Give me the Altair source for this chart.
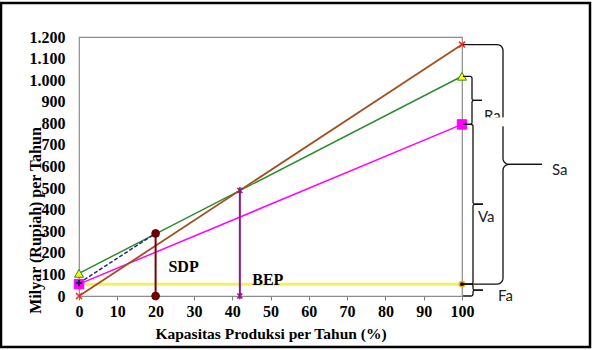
import altair as alt
import pandas as pd
import numpy as np

# ---------------- data ----------------
capacity = [0, 100]
sales = [0, 1165]            # Sa
total_cost = [105, 1018]
variable_cost = [55, 795]
fixed_cost = [55, 55]        # Fa
sdp_dash_x = [0, 20]
sdp_dash_y = [60, 290]
sdp_x, sdp_y = 20, 290
bep_x, bep_y = 42, 489
x_ticks = list(range(0, 101, 10))
y_ticks = list(range(0, 1201, 100))

W, H = 383, 259
XMAX, YMAX = 100, 1200

serif = "Liberation Serif, Times New Roman, serif"
sans = "Lato"

xs = alt.Scale(domain=[0, XMAX], nice=False, zero=False)
ys = alt.Scale(domain=[0, YMAX], nice=False, zero=False)

x_axis = alt.Axis(values=x_ticks, title="Kapasitas Produksi per Tahun (%)",
                  ticks=True, tickSize=4, tickColor="#808080", labelPadding=3,
                  labelFlush=False,
                  labelFont=serif, labelFontSize=16, labelFontWeight="bold",
                  titleFont=serif, titleFontWeight="bold",
                  titleFontSize=15.5, titleY=42, titleBaseline="alphabetic")
y_axis = alt.Axis(values=y_ticks, title="Milyar (Rupiah) per Tahun",
                  ticks=False, labelPadding=14, labelFlush=False,
                  labelFont=serif, labelFontSize=16, labelFontWeight="bold",
                  titleFont=serif, titleFontWeight="bold",
                  labelExpr="replace(format(datum.value, ','), ',', '.')",
                  titleFontSize=16, titleAngle=270, titleAlign="center",
                  titleBaseline="middle", titleX=-44, titleY=183)


def X(field="x"):
    return alt.X(f"{field}:Q", scale=xs, axis=x_axis)


def Y(field="y"):
    return alt.Y(f"{field}:Q", scale=ys, axis=y_axis)


def line_layer(xv, yv, color, width=1.5, dash=None):
    df = pd.DataFrame({"x": xv, "y": yv})
    kw = dict(color=color, strokeWidth=width)
    if dash:
        kw["strokeDash"] = dash
    return alt.Chart(df).mark_line(**kw).encode(x=X(), y=Y())


def point_layer(xv, yv, shape, size, fill=None, stroke=None, sw=1.5, filled=True):
    df = pd.DataFrame({"x": xv, "y": yv})
    kw = dict(shape=shape, size=size, opacity=1, strokeWidth=sw, filled=filled)
    if fill:
        kw["fill"] = fill
    if stroke:
        kw["stroke"] = stroke
    if not filled and stroke:
        kw["color"] = stroke
    return alt.Chart(df).mark_point(**kw).encode(x=X(), y=Y())


# ---------------- lines ----------------
yellow_line = line_layer(capacity, fixed_cost, "#f7f05a", width=3)
magenta_line = line_layer(capacity, variable_cost, "#ff00ff", width=1.5)
green_line = line_layer(capacity, total_cost, "#2e8b2e", width=1.5)
brown_line = line_layer(capacity, sales, "#a0501e", width=1.8)
dash_line = line_layer(sdp_dash_x, sdp_dash_y, "#1f2a80", width=1.5, dash=[4, 2])
sdp_line = line_layer([sdp_x, sdp_x], [0, sdp_y], "#7a0000", width=2)
bep_line = line_layer([bep_x, bep_x], [0, bep_y], "#8a1a8a", width=2)

# ---------------- markers ----------------
XSHAPE = "M-1,-1L1,1M-1,1L1,-1"
PLUS = "M-1,0L1,0M0,-1L0,1"
STAR = "M-0.75,-0.75L0.75,0.75M-0.75,0.75L0.75,-0.75M0,-1L0,1"

fixed_pts = point_layer(capacity, fixed_cost, "circle", 30, fill="#101040", stroke="#e8b800", sw=1.5)
square_pts = point_layer(capacity, variable_cost, "square", 90, fill="#ff00ff", stroke="#ff00ff", sw=1)
tri_pts = point_layer(capacity, total_cost, "triangle-up", 80, fill="#ffff00", stroke="#2e8b2e", sw=1)
x_pts = point_layer(capacity, sales, XSHAPE, 35, stroke="#ff2020", sw=1.5, filled=False)
plus_pt = point_layer(sdp_dash_x[:1], sdp_dash_y[:1], PLUS, 40, stroke="#202050", sw=2, filled=False)
sdp_pts = point_layer([sdp_x, sdp_x], [0, sdp_y], "circle", 60, fill="#6a0000", stroke="#6a0000", sw=1)
bep_pts = point_layer([bep_x, bep_x], [0, bep_y], STAR, 45, stroke="#8a1a8a", sw=1.5, filled=False)

# ---------------- annotations ----------------
ann_df = pd.DataFrame({"x": [27.3, 49.3], "y": [134, 72], "t": ["SDP", "BEP"]})
ann = alt.Chart(ann_df).mark_text(font=serif, fontSize=16, fontWeight="bold",
                                  color="black", baseline="middle").encode(
    x=X(), y=Y(), text="t:N")


# ---------------- braces ----------------
def brace_rows(name, v_top, v_bot, spine_off, tip_off, r, n=7):
    yt = H - v_top * H / YMAX
    yb = H - v_bot * H / YMAX
    ym = (yt + yb) / 2
    x0 = W + 1
    spine = W + spine_off
    tip = W + tip_off
    up = [(x0, yt), (spine - r, yt)]
    for a in np.radians(np.linspace(-90, 0, n)):
        up.append((spine - r + r * np.cos(a), yt + r + r * np.sin(a)))
    for a in np.radians(np.linspace(180, 90, n)):
        up.append((spine + r + r * np.cos(a), ym - r + r * np.sin(a)))
    up.append((tip, ym))
    lo = [(x0, yb), (spine - r, yb)]
    for a in np.radians(np.linspace(90, 0, n)):
        lo.append((spine - r + r * np.cos(a), yb - r + r * np.sin(a)))
    for a in np.radians(np.linspace(180, 270, n)):
        lo.append((spine + r + r * np.cos(a), ym + r + r * np.sin(a)))
    lo.append((tip, ym))
    rows = []
    for part, pts in (("u", up), ("l", lo)):
        for i, (px, py) in enumerate(pts):
            rows.append({"seg": name + part, "o": i,
                         "x": px * XMAX / W, "y": (H - py) * YMAX / H})
    return rows, (tip, ym)


brace_specs = [
    ("Sa", sales[1], fixed_cost[1], 41, 80, 6),
    ("Ra", total_cost[1], variable_cost[1], 10, 20, 2),
    ("Va", variable_cost[1], fixed_cost[1], 11, 21, 2),
    ("Fa", fixed_cost[1], 0, 11, 21, 2),
]
label_off = {"Sa": (10, 6), "Ra": (2, 16), "Va": (-5, 13), "Fa": (15, 6)}
brace_all = []
labels = []
for name, vt, vb, so, to, r in brace_specs:
    rows, (tx, ty) = brace_rows(name, vt, vb, so, to, r)
    brace_all += rows
    dx, dy = label_off[name]
    labels.append({"t": name, "x": (tx + dx) * XMAX / W, "y": (H - (ty + dy)) * YMAX / H})

brace_df = pd.DataFrame(brace_all)
braces = alt.Chart(brace_df).mark_line(color="#111111", strokeWidth=1.3).encode(
    x=X(), y=Y(), detail="seg:N", order="o:Q")

lab_df = pd.DataFrame(labels)
brace_text = alt.Chart(lab_df).mark_text(font=sans, fontSize=15, color="#222222",
                                         align="left", baseline="middle").encode(
    x=X(), y=Y(), text="t:N")

# white patch hiding the lower half of "Ra" (as in the reference)
ra = [l for l in labels if l["t"] == "Ra"][0]
ra_px = ra["x"] * W / XMAX
ra_py = H - ra["y"] * H / YMAX
ra_mask = alt.Chart(alt.Data(values=[{}])).mark_rect(fill="white").encode(
    x=alt.value(ra_px - 1), x2=alt.value(ra_px + 22),
    y=alt.value(ra_py + 1), y2=alt.value(ra_py + 10))

# outer black frame
frame = alt.Chart(alt.Data(values=[{}])).mark_rect(
    fill="transparent", stroke="black", strokeWidth=2.5).encode(
    x=alt.value(-78), x2=alt.value(W + 128),
    y=alt.value(-34), y2=alt.value(H + 51))

chart = alt.layer(
    yellow_line, magenta_line, green_line, brown_line, dash_line,
    sdp_line, bep_line,
    fixed_pts, square_pts, tri_pts, x_pts, plus_pt, sdp_pts, bep_pts,
    ann, braces, brace_text, ra_mask, frame,
).properties(
    width=W, height=H,
    autosize="none",
    background="white",
    padding={"left": 79, "top": 37, "right": 130, "bottom": 54},
).configure_view(
    stroke="#8c8c8c", strokeWidth=1.2
).configure_axis(
    grid=False, domain=False, labelFlush=False,
    labelFont=serif, labelFontSize=16, labelFontWeight="bold", labelColor="black",
    titleFont=serif, titleFontWeight="bold", titleColor="black",
)

chart.save("out.html", embed_options={"renderer": "svg", "actions": False})
